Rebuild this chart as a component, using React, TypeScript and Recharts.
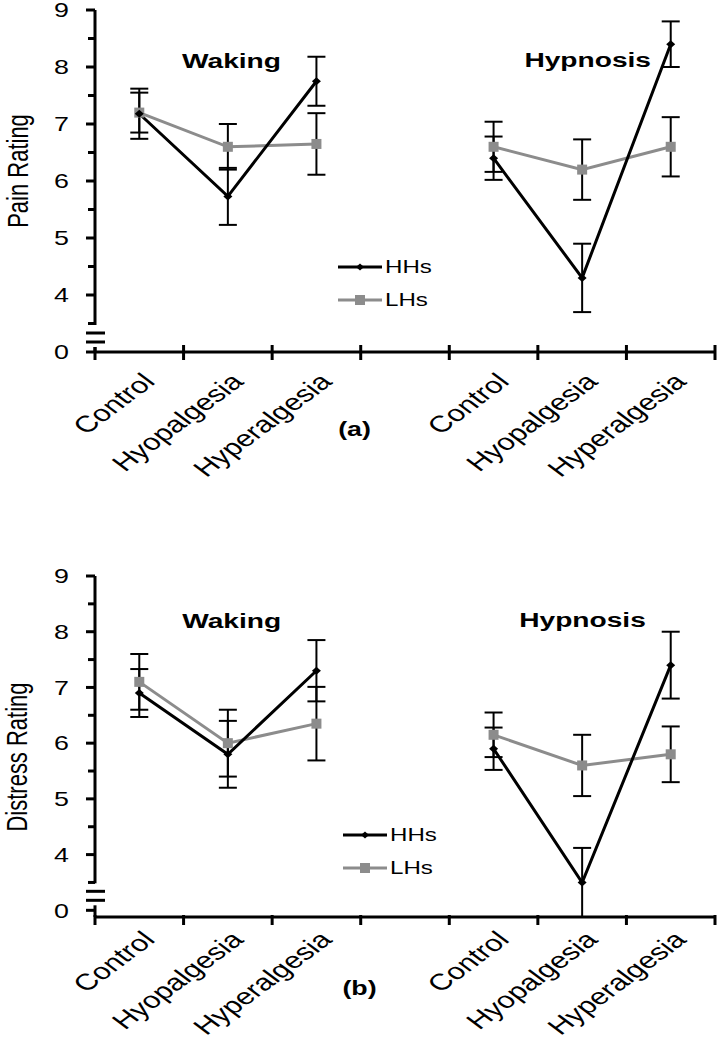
import { ComposedChart, Line, XAxis, YAxis, ErrorBar, Legend } from "recharts";

const FONT = '"Liberation Sans", Arial, sans-serif';
// the figure is stretched sideways, so text is widened to match
const SX = 1.34;
const GRAY = "#8c8c8c";

const categories = ["Control", "Hyopalgesia", "Hyperalgesia", "", "Control", "Hyopalgesia", "Hyperalgesia"];
const seriesNames = ["HHs", "LHs"];
const yTicks = [3, 3.5, 4, 4.5, 5, 5.5, 6, 6.5, 7, 7.5, 8, 8.5, 9];
const yTickLabels: Record<string, string> = { "3": "0", "4": "4", "5": "5", "6": "6", "7": "7", "8": "8", "9": "9" };
const xTicks = [0, 0.5, 1, 1.5, 2, 2.5, 3, 3.5, 4, 4.5, 5, 5.5, 6, 6.5, 7];

// (a) pain rating
const painHHs = [7.18, 5.73, 7.75, null, 6.4, 4.3, 8.4];
const painHHsErr = [0.44, 0.5, 0.43, null, 0.38, 0.6, 0.4];
const painLHs = [7.2, 6.6, 6.65, null, 6.6, 6.2, 6.6];
const painLHsErr = [0.35, 0.4, 0.54, null, 0.44, 0.53, 0.52];

// (b) distress rating
const distressHHs = [6.9, 5.8, 7.3, null, 5.9, 3.5, 7.4];
const distressHHsErr = [0.43, 0.6, 0.55, null, 0.38, 0.62, 0.6];
const distressLHs = [7.1, 6.0, 6.35, null, 6.15, 5.6, 5.8];
const distressLHsErr = [0.5, 0.6, 0.66, null, 0.4, 0.55, 0.5];

function buildRows(hhs: (number | null)[], hhsErr: (number | null)[], lhs: (number | null)[], lhsErr: (number | null)[]) {
  return categories.map((name, i) => ({
    x: i + 0.5,
    name,
    HHs: hhs[i],
    hhsErr: hhsErr[i],
    LHs: lhs[i],
    lhsErr: lhsErr[i],
  }));
}

const painRows = buildRows(painHHs, painHHsErr, painLHs, painLHsErr);
const distressRows = buildRows(distressHHs, distressHHsErr, distressLHs, distressLHsErr);

const Diamond = (p: any) => {
  const { cx, cy, index } = p;
  if (cx == null || cy == null) return <g key={index} />;
  return (
    <path
      key={index}
      d={`M${cx},${cy - 4}L${cx + 4.5},${cy}L${cx},${cy + 4}L${cx - 4.5},${cy}Z`}
      fill="#000"
    />
  );
};

const Square = (p: any) => {
  const { cx, cy, index } = p;
  if (cx == null || cy == null) return <g key={index} />;
  return <rect key={index} x={cx - 5} y={cy - 5} width={10} height={10} fill={GRAY} />;
};

const YTick = (props: any) => {
  const { x, y, payload } = props;
  const v = payload.value;
  const label = yTickLabels[String(v)];
  if (v === 3) {
    // axis break
    return (
      <g>
        <rect x={x - 6} y={y - 27} width={12} height={22} fill="#fff" />
        <line x1={x - 9} x2={x + 10} y1={y - 19} y2={y - 19} stroke="#000" strokeWidth={3} />
        <line x1={x - 9} x2={x + 10} y1={y - 10} y2={y - 10} stroke="#000" strokeWidth={3} />
        <line x1={x - 9} x2={x} y1={y} y2={y} stroke="#000" strokeWidth={3} />
        <text
          transform={`translate(${x - 26},${y}) scale(${SX},1)`}
          textAnchor="end"
          dy="0.36em"
          fontSize={20}
          fontFamily={FONT}
          fill="#000"
        >
          {label}
        </text>
      </g>
    );
  }
  return (
    <g>
      <line x1={x - (label ? 9 : 7)} x2={x} y1={y} y2={y} stroke="#000" strokeWidth={3} />
      {label && (
        <text
          transform={`translate(${x - 26},${y}) scale(${SX},1)`}
          textAnchor="end"
          dy="0.36em"
          fontSize={20}
          fontFamily={FONT}
          fill="#000"
        >
          {label}
        </text>
      )}
    </g>
  );
};

const makeXTick = (crossUp: number, labelDy: number) => (props: any) => {
  const { x, y, payload } = props;
  const v = payload.value;
  if (Number.isInteger(v)) {
    return <line x1={x} x2={x} y1={y - crossUp} y2={y + 8} stroke="#000" strokeWidth={3} />;
  }
  const name = categories[Math.floor(v)];
  return (
    <text
      transform={`translate(${x + 17},${y + labelDy}) scale(${SX},1) rotate(-45)`}
      textAnchor="end"
      fontSize={23}
      fontFamily={FONT}
      fill="#000"
    >
      {name}
    </text>
  );
};

const LegendBox = () => (
  <svg width={130} height={60} style={{ overflow: "visible" }}>
    {seriesNames.map((name, i) => {
      const yy = 12 + i * 33;
      const color = name === "HHs" ? "#000" : GRAY;
      return (
        <g key={name}>
          <line x1={0} x2={44} y1={yy} y2={yy} stroke={color} strokeWidth={3} />
          {name === "HHs" ? (
            <path d={`M22,${yy - 3.5}L26,${yy}L22,${yy + 3.5}L18,${yy}Z`} fill="#000" />
          ) : (
            <rect x={17} y={yy - 5} width={10} height={10} fill={GRAY} />
          )}
          <text
            transform={`translate(47,${yy}) scale(${SX},1)`}
            dy="0.36em"
            fontSize={18}
            fontFamily={FONT}
            fill="#000"
          >
            {name}
          </text>
        </g>
      );
    })}
  </svg>
);

type PanelProps = {
  rows: ReturnType<typeof buildRows>;
  top: number;
  height: number;
  marginTop: number;
  xAxisHeight: number;
  crossUp: number;
  labelDy: number;
  legendLeft: number;
  legendTop: number;
};

function Panel({ rows, top, height, marginTop, xAxisHeight, crossUp, labelDy, legendLeft, legendTop }: PanelProps) {
  return (
    <div style={{ position: "absolute", left: 0, top }}>
      <ComposedChart width={718} height={height} data={rows} margin={{ top: marginTop, right: 3, left: 0, bottom: 0 }}>
        <XAxis
          type="number"
          dataKey="x"
          domain={[0, 7]}
          ticks={xTicks}
          interval={0}
          height={xAxisHeight}
          tickSize={0}
          tickMargin={0}
          tickLine={false}
          axisLine={{ stroke: "#000", strokeWidth: 3 }}
          tick={makeXTick(crossUp, labelDy)}
        />
        <YAxis
          type="number"
          domain={[3, 9]}
          ticks={yTicks}
          interval={0}
          width={95}
          tickSize={0}
          tickMargin={0}
          tickLine={false}
          axisLine={{ stroke: "#000", strokeWidth: 3 }}
          tick={YTick}
        />
        <Legend
          layout="vertical"
          align="center"
          verticalAlign="middle"
          content={LegendBox}
          wrapperStyle={{ left: legendLeft, top: legendTop, width: 130, height: 60 }}
        />
        <Line
          dataKey="LHs"
          stroke={GRAY}
          strokeWidth={3}
          dot={Square}
          activeDot={false}
          isAnimationActive={false}
        >
          <ErrorBar dataKey="lhsErr" width={9} strokeWidth={2} stroke="#000" direction="y" isAnimationActive={false} />
        </Line>
        <Line
          dataKey="HHs"
          stroke="#000"
          strokeWidth={3}
          dot={Diamond}
          activeDot={false}
          isAnimationActive={false}
        >
          <ErrorBar dataKey="hhsErr" width={9} strokeWidth={2} stroke="#000" direction="y" isAnimationActive={false} />
        </Line>
      </ComposedChart>
    </div>
  );
}

export default function App() {
  const textStyle = { fontFamily: FONT, fill: "#000" };
  return (
    <div style={{ position: "absolute", left: 0, top: 0, width: 718, height: 1044, background: "#fff" }}>
      <Panel
        rows={painRows}
        top={0}
        height={530}
        marginTop={10}
        xAxisHeight={178}
        crossUp={7}
        labelDy={31}
        legendLeft={338}
        legendTop={255}
      />
      <Panel
        rows={distressRows}
        top={560}
        height={484}
        marginTop={16}
        xAxisHeight={127}
        crossUp={2}
        labelDy={24}
        legendLeft={343}
        legendTop={263}
      />
      <svg
        width={718}
        height={1044}
        style={{ position: "absolute", left: 0, top: 0, pointerEvents: "none" }}
      >
        <text transform={`translate(28,171) scale(${SX},1) rotate(-90)`} textAnchor="middle" fontSize={22} {...textStyle}>
          Pain Rating
        </text>
        <text transform={`translate(27,757) scale(${SX},1) rotate(-90)`} textAnchor="middle" fontSize={22} {...textStyle}>
          Distress Rating
        </text>
        <text transform={`translate(231.5,68) scale(${SX},1)`} textAnchor="middle" fontSize={21} fontWeight={700} {...textStyle}>
          Waking
        </text>
        <text transform={`translate(587.7,67) scale(${SX},1)`} textAnchor="middle" fontSize={21} fontWeight={700} {...textStyle}>
          Hypnosis
        </text>
        <text transform={`translate(231.7,628) scale(${SX},1)`} textAnchor="middle" fontSize={21} fontWeight={700} {...textStyle}>
          Waking
        </text>
        <text transform={`translate(582.5,627) scale(${SX},1)`} textAnchor="middle" fontSize={21} fontWeight={700} {...textStyle}>
          Hypnosis
        </text>
        <text transform={`translate(354.5,436) scale(${SX},1)`} textAnchor="middle" fontSize={20} fontWeight={700} {...textStyle}>
          (a)
        </text>
        <text transform={`translate(359.5,995) scale(${SX},1)`} textAnchor="middle" fontSize={20} fontWeight={700} {...textStyle}>
          (b)
        </text>
      </svg>
    </div>
  );
}
